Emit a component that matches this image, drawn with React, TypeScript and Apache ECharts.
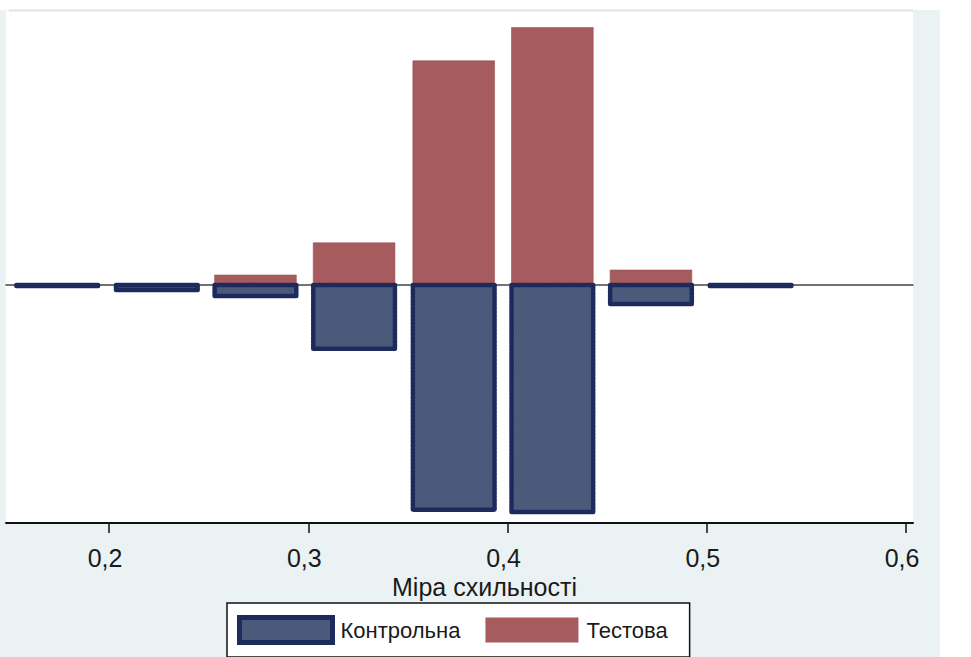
import React, { useEffect, useRef } from "react";
import * as echarts from "echarts";

// Propensity-score bins (centers)
const binCenters = [0.174, 0.224, 0.2735, 0.323, 0.373, 0.4225, 0.472, 0.522];
const binWidth = 0.041;
// Share of group in each bin
const controlShare = [0.002, 0.009, 0.02, 0.115, 0.405, 0.409, 0.034, 0.002];
const testShare = [0.002, 0.001, 0.018, 0.076, 0.404, 0.464, 0.027, 0.002];
const tickValues = [0.2, 0.3, 0.4, 0.5, 0.6];
const xTitle = "Міра схильності";
const seriesNames = ["Контрольна", "Тестова"];

const BLUE_FILL = "#4b5a7b";
const BLUE_EDGE = "#1c2a5c";
const RED_FILL = "#a65b5f";
const BG = "#eaf2f3";
const FONT = "Liberation Sans, Arial, sans-serif";

export default function App() {
  const ref = useRef<HTMLDivElement>(null);
  useEffect(() => {
    if (!ref.current) return;
    const chart = echarts.init(ref.current, undefined, { renderer: "svg" });
    const makeRender = (sign: number, fill: string, edge: string | null) =>
      (params: any, api: any) => {
        const c = api.value(0);
        const v = api.value(1);
        const p0 = api.coord([c - binWidth / 2, 0]);
        const p1 = api.coord([c + binWidth / 2, sign * v]);
        const x = Math.min(p0[0], p1[0]);
        const y = Math.min(p0[1], p1[1]);
        const w = Math.abs(p1[0] - p0[0]);
        const h = Math.abs(p1[1] - p0[1]);
        return {
          type: "rect",
          shape: { x, y, width: w, height: h },
          style: edge
            ? { fill, stroke: edge, lineWidth: 4.5, lineDash: [2.5, 1.2], lineCap: "round", lineJoin: "round" }
            : { fill, stroke: "#9a5054", lineWidth: 0.6 },
        };
      };
    const option: any = {
      animation: false,
      backgroundColor: "#ffffff",
      textStyle: { fontFamily: FONT },
      graphic: [
        { type: "rect", z: -10, silent: true, shape: { x: 0, y: 10, width: 940, height: 647 }, style: { fill: BG } },
        { type: "line", z: 5, silent: true, shape: { x1: 9, y1: 10.5, x2: 913, y2: 10.5 }, style: { stroke: "#e2e4e4", lineWidth: 2 } },
      ],
      grid: { left: 6, top: 11, width: 907, height: 512, show: true, backgroundColor: "#ffffff", borderWidth: 0 },
      xAxis: [
        {
          type: "value",
          min: 0.1483,
          max: 0.6035,
          position: "bottom",
          splitLine: { show: false },
          axisLine: { onZero: false, lineStyle: { color: "#111", width: 2 } },
          axisTick: { show: true, customValues: tickValues, length: 10, lineStyle: { color: "#111", width: 1.5 } },
          axisLabel: {
            customValues: tickValues,
            margin: 22,
            fontSize: 25,
            color: "#1a1a1a",
            fontFamily: FONT,
            padding: [0, 8, 0, 0],
            formatter: (v: number) => v.toFixed(1).replace(".", ","),
          },
          name: xTitle,
          nameLocation: "middle",
          nameGap: 44,
          nameTextStyle: { fontSize: 25, color: "#1a1a1a", fontFamily: FONT, padding: [0, 0, 0, 50] },
        },
        {
          type: "value",
          min: 0.1483,
          max: 0.6035,
          position: "top",
          splitLine: { show: false },
          axisLine: { show: true, onZero: true, lineStyle: { color: "#444", width: 1.5 } },
          axisTick: { show: false },
          axisLabel: { show: false },
        },
      ],
      yAxis: {
        type: "value",
        min: -0.4288,
        max: 0.4937,
        show: true,
        axisLine: { show: false },
        axisTick: { show: false },
        axisLabel: { show: false },
        splitLine: { show: false },
      },
      legend: {
        left: 227,
        top: 603,
        padding: [12, 22, 12, 10],
        borderColor: "#111",
        borderWidth: 1.5,
        backgroundColor: "#ffffff",
        itemWidth: 93,
        itemHeight: 25,
        itemGap: 25,
        icon: "rect",
        textStyle: { fontSize: 22, color: "#1a1a1a", fontFamily: FONT, padding: [0, 0, 0, 3] },
        data: [
          { name: seriesNames[0], itemStyle: { color: BLUE_FILL, borderColor: BLUE_EDGE, borderWidth: 5 } },
          { name: seriesNames[1], itemStyle: { color: RED_FILL, borderWidth: 0 } },
        ],
      },
      series: [
        {
          name: seriesNames[1],
          type: "custom",
          xAxisIndex: 0,
          yAxisIndex: 0,
          itemStyle: { color: RED_FILL },
          renderItem: makeRender(1, RED_FILL, null),
          data: binCenters.map((c, i) => [c, testShare[i]]),
          z: 3,
        },
        {
          name: seriesNames[0],
          type: "custom",
          xAxisIndex: 0,
          yAxisIndex: 0,
          itemStyle: { color: BLUE_FILL },
          renderItem: makeRender(-1, BLUE_FILL, BLUE_EDGE),
          data: binCenters.map((c, i) => [c, controlShare[i]]),
          z: 4,
        },
      ],
    };
    chart.setOption(option);
    return () => chart.dispose();
  }, []);
  return <div ref={ref} style={{ position: "absolute", left: 0, top: 0, width: 971, height: 657 }} />;
}
